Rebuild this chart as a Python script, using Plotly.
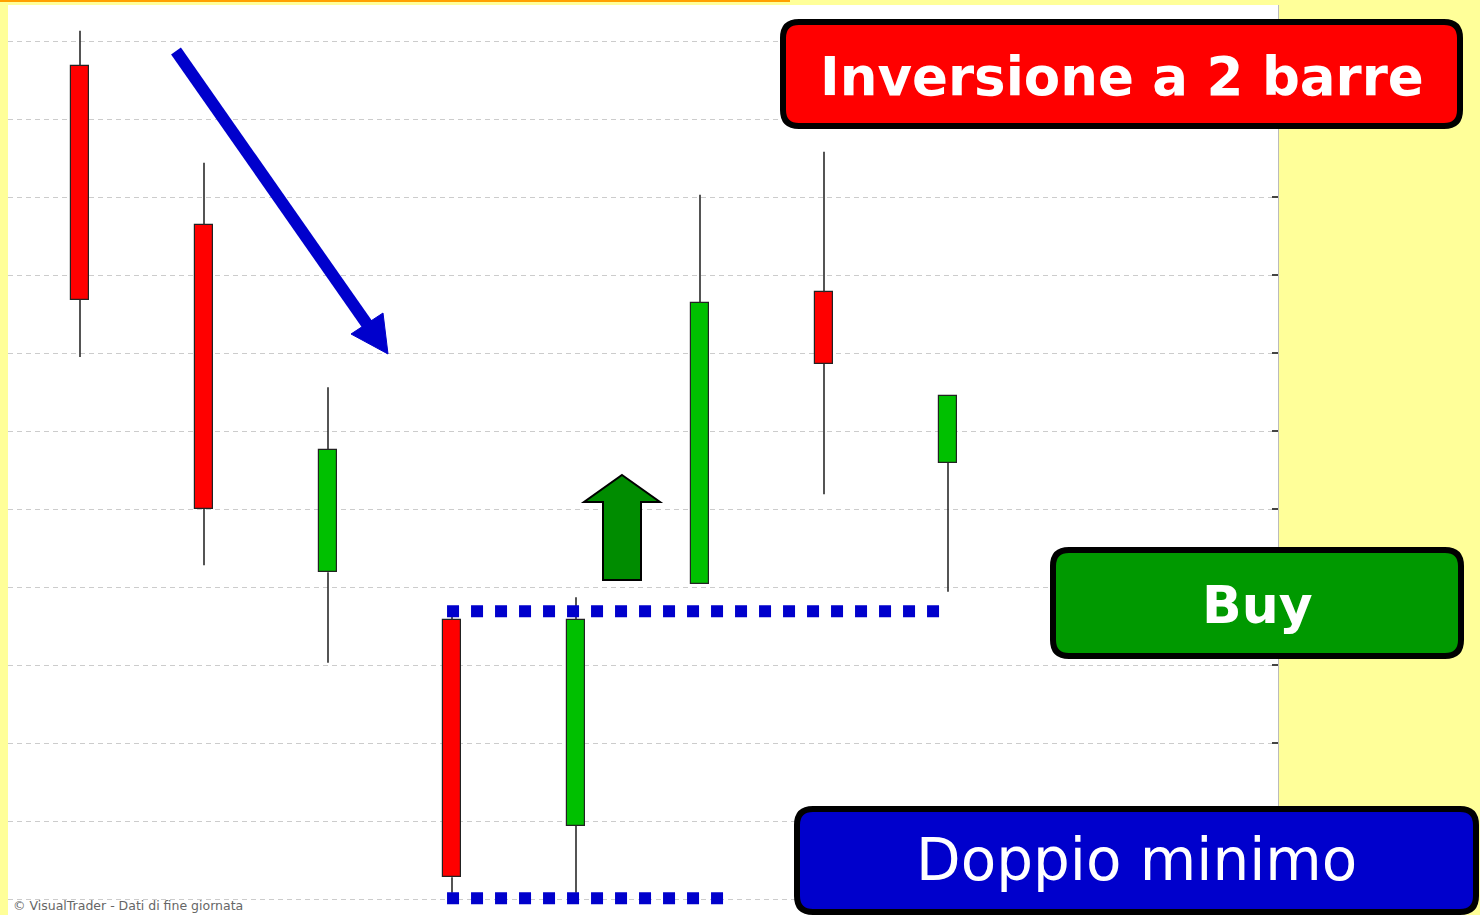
import plotly.graph_objects as go

W, H = 1480, 915

# ---- data ----
candles = [0, 1, 2, 3, 4, 5, 6, 7]
opens = [10.68, 8.64, 4.19, 3.58, 0.94, 4.04, 7.78, 5.59]
highs = [11.13, 9.44, 6.56, 3.72, 3.87, 9.03, 9.58, 6.45]
lows = [6.95, 4.28, 3.03, 0.08, 0.08, 4.04, 5.19, 3.94]
closes = [7.68, 5.00, 5.76, 0.28, 3.58, 7.64, 6.86, 6.45]
grid_levels = list(range(12))
resistance_level = 3.69
support_level = 0.01
resistance_span = [2.96, 6.93]
support_span = [2.96, 5.19]
title_red = "Inversione a 2 barre"
title_green = "Buy"
title_blue = "Doppio minimo"
credit = "© VisualTrader - Dati di fine giornata"

# ---- geometry helpers (pixel -> paper) ----
def px(x):
    return x / W

def py(y):
    return 1 - y / H

def rrect(x0, y0, x1, y1, r):
    return (f"M {px(x0+r)},{py(y0)} L {px(x1-r)},{py(y0)} Q {px(x1)},{py(y0)} {px(x1)},{py(y0+r)} "
            f"L {px(x1)},{py(y1-r)} Q {px(x1)},{py(y1)} {px(x1-r)},{py(y1)} "
            f"L {px(x0+r)},{py(y1)} Q {px(x0)},{py(y1)} {px(x0)},{py(y1-r)} "
            f"L {px(x0)},{py(y0+r)} Q {px(x0)},{py(y0)} {px(x0+r)},{py(y0)} Z")

def poly(pts):
    s = "M " + " L ".join(f"{px(a)},{py(b)}" for a, b in pts) + " Z"
    return s

fig = go.Figure()

# wicks (split so they don't cross the bodies)
wx, wy = [], []
for i, o, h, l, c in zip(candles, opens, highs, lows, closes):
    top, bot = max(o, c), min(o, c)
    wx += [i, i, None, i, i, None]
    wy += [top, h, None, bot, l, None]
fig.add_trace(go.Scatter(x=wx, y=wy, mode="lines", line=dict(color="#2a2a2a", width=1.6),
                         hoverinfo="skip", showlegend=False))

# bodies
fig.add_trace(go.Bar(
    x=candles,
    base=[min(o, c) for o, c in zip(opens, closes)],
    y=[abs(c - o) for o, c in zip(opens, closes)],
    width=0.145,
    marker=dict(color=["#00C000" if c > o else "#FF0000" for o, c in zip(opens, closes)],
                line=dict(color="#222222", width=1.2)),
    showlegend=False, hoverinfo="skip"))

# dotted levels
fig.add_trace(go.Scatter(x=resistance_span, y=[resistance_level] * 2, mode="lines",
                         line=dict(color="#0000CC", width=12, dash="12px,12px"),
                         showlegend=False, hoverinfo="skip"))
fig.add_trace(go.Scatter(x=support_span, y=[support_level] * 2, mode="lines",
                         line=dict(color="#0000CC", width=12, dash="12px,12px"),
                         showlegend=False, hoverinfo="skip"))

shapes = []
# top orange strip
shapes.append(dict(type="rect", xref="paper", yref="paper", x0=0, x1=px(790), y0=py(2), y1=1,
                   fillcolor="#FFA000", line=dict(width=0), layer="above"))
# right border of plot
shapes.append(dict(type="line", xref="paper", yref="paper", x0=px(1278.5), x1=px(1278.5), y0=0, y1=py(5),
                   line=dict(color="#BBBBBB", width=1)))
# blue down arrow
shapes.append(dict(type="line", xref="paper", yref="paper", x0=px(176), y0=py(51), x1=px(369), y1=py(327),
                   line=dict(color="#0000CC", width=12), layer="above"))
shapes.append(dict(type="path", xref="paper", yref="paper",
                   path=poly([(351, 334), (383, 313), (388, 354)]),
                   fillcolor="#0000CC", line=dict(color="#0000CC", width=1), layer="above"))
# green up arrow
shapes.append(dict(type="path", xref="paper", yref="paper",
                   path=poly([(622, 475), (660, 502), (641, 502), (641, 580), (603, 580), (603, 502), (584, 502)]),
                   fillcolor="#008C00", line=dict(color="#000000", width=2), layer="above"))
# label boxes
shapes.append(dict(type="path", xref="paper", yref="paper", path=rrect(783, 22, 1460, 126, 16),
                   fillcolor="#FF0000", line=dict(color="#000000", width=6), layer="above"))
shapes.append(dict(type="path", xref="paper", yref="paper", path=rrect(1053, 550, 1461, 656, 16),
                   fillcolor="#009900", line=dict(color="#000000", width=6), layer="above"))
shapes.append(dict(type="path", xref="paper", yref="paper", path=rrect(797, 809, 1476, 912, 16),
                   fillcolor="#0000CC", line=dict(color="#000000", width=6), layer="above"))

annotations = [
    dict(text=title_red, xref="paper", yref="paper", x=px(1122), y=py(76), showarrow=False,
         font=dict(family="DejaVu Sans", size=53, color="white", weight="bold"),
         xanchor="center", yanchor="middle"),
    dict(text=title_green, xref="paper", yref="paper", x=px(1257), y=py(605), showarrow=False,
         font=dict(family="DejaVu Sans", size=52, color="white", weight="bold"),
         xanchor="center", yanchor="middle"),
    dict(text=title_blue, xref="paper", yref="paper", x=px(1136), y=py(860), showarrow=False,
         font=dict(family="DejaVu Sans", size=58, color="white"),
         xanchor="center", yanchor="middle"),
    dict(text=credit, xref="paper", yref="paper", x=px(11), y=py(915), showarrow=False,
         font=dict(family="DejaVu Sans", size=12.5, color="#666666"),
         xanchor="left", yanchor="bottom"),
]

fig.update_layout(
    width=W, height=H,
    margin=dict(l=0, r=0, t=0, b=0),
    paper_bgcolor="#FFFF99",
    plot_bgcolor="#FFFFFF",
    shapes=shapes,
    annotations=annotations,
    showlegend=False,
    bargap=0,
    xaxis=dict(domain=[px(8), px(1278)], range=[(8 - 80) / 124, (1278 - 80) / 124],
               showgrid=False, zeroline=False, showticklabels=False, ticks="", fixedrange=True),
    yaxis=dict(domain=[0, py(5)], range=[(899 - 915) / 78, (899 - 5) / 78],
               tickvals=grid_levels, showticklabels=False, side="right",
               ticks="inside", ticklen=6, tickwidth=2, tickcolor="#444444",
               showgrid=True, gridcolor="#CCCCCC", gridwidth=1, griddash="5px,4px",
               zeroline=False, fixedrange=True),
)

fig.write_html("out.html", config={"displayModeBar": False},
               post_script="document.body.style.margin='0';document.body.style.overflow='hidden';")
